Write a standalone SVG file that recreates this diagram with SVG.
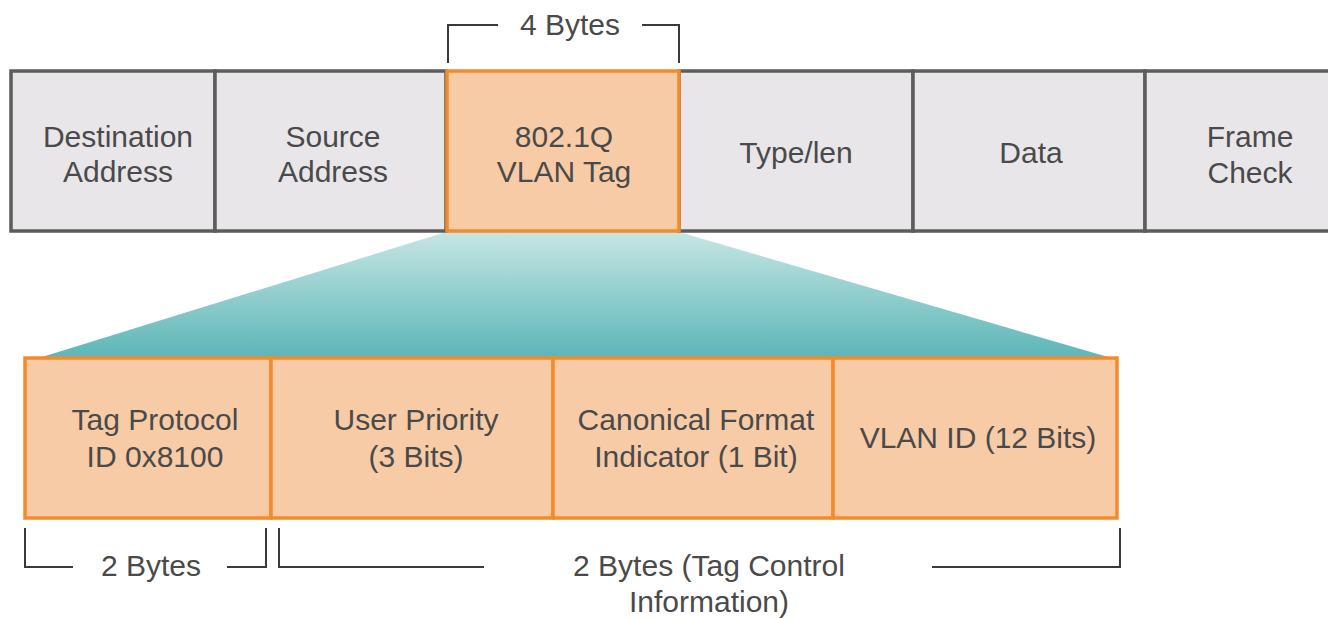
<svg xmlns="http://www.w3.org/2000/svg" width="1328" height="619" viewBox="0 0 1328 619">
<defs>
<linearGradient id="teal" x1="0" y1="0" x2="0" y2="1">
<stop offset="0" stop-color="#c6e6e3"/>
<stop offset="1" stop-color="#5db6b8"/>
</linearGradient>
<style>
.g{fill:#e8e6e8;stroke:#5c5c5c;stroke-width:3.5}
.o{fill:#f8cba7;stroke:#f58a2c;stroke-width:3.5}
.t{font-family:"Liberation Sans",Arial,sans-serif;font-size:30px;fill:#4a4a4a;text-anchor:middle}
.b{fill:none;stroke:#3a3a3a;stroke-width:2}
</style>
</defs>
<rect width="1328" height="619" fill="#ffffff"/>
<g id="expansion">
<polygon points="446,232 679,232 1108,357 42,357" fill="url(#teal)"/>
</g>
<g id="dest"><rect class="g" x="11" y="71" width="204" height="160"/><text class="t" x="118" y="147">Destination</text><text class="t" x="118" y="182">Address</text></g>
<g id="src"><rect class="g" x="215" y="71" width="231" height="160"/><text class="t" x="333" y="147">Source</text><text class="t" x="333" y="182">Address</text></g>
<g id="typelen"><rect class="g" x="679" y="71" width="234" height="160"/><text class="t" x="796" y="163">Type/len</text></g>
<g id="data"><rect class="g" x="913" y="71" width="232" height="160"/><text class="t" x="1031" y="163">Data</text></g>
<g id="fcs"><rect class="g" x="1145" y="71" width="200" height="160"/><text class="t" x="1250" y="147">Frame</text><text class="t" x="1250" y="183">Check</text></g>
<g id="vlantag"><rect class="o" x="447" y="71" width="232" height="160"/><text class="t" x="564" y="147">802.1Q</text><text class="t" x="564" y="182">VLAN Tag</text></g>
<g id="tpid"><rect class="o" x="25" y="358" width="246" height="160"/><text class="t" x="155" y="430">Tag Protocol</text><text class="t" x="155" y="467">ID 0x8100</text></g>
<g id="prio"><rect class="o" x="271" y="358" width="282" height="160"/><text class="t" x="416" y="430">User Priority</text><text class="t" x="416" y="467">(3 Bits)</text></g>
<g id="cfi"><rect class="o" x="553" y="358" width="280" height="160"/><text class="t" x="696" y="430">Canonical Format</text><text class="t" x="696" y="467">Indicator (1 Bit)</text></g>
<g id="vid"><rect class="o" x="833" y="358" width="284" height="160"/><text class="t" x="978" y="448">VLAN ID (12 Bits)</text></g>
<g id="brackets">
<path class="b" d="M448,63 V25 H498 M642,25 H679 V63"/>
<path class="b" d="M25,528 V567 H73 M227,567 H266 V528"/>
<path class="b" d="M279,528 V567 H484 M932,567 H1120 V528"/>
</g>
<g id="labels">
<text class="t" x="570" y="35">4 Bytes</text>
<text class="t" x="151" y="576">2 Bytes</text>
<text class="t" x="709" y="576">2 Bytes (Tag Control</text>
<text class="t" x="709" y="612">Information)</text>
</g>
</svg>
